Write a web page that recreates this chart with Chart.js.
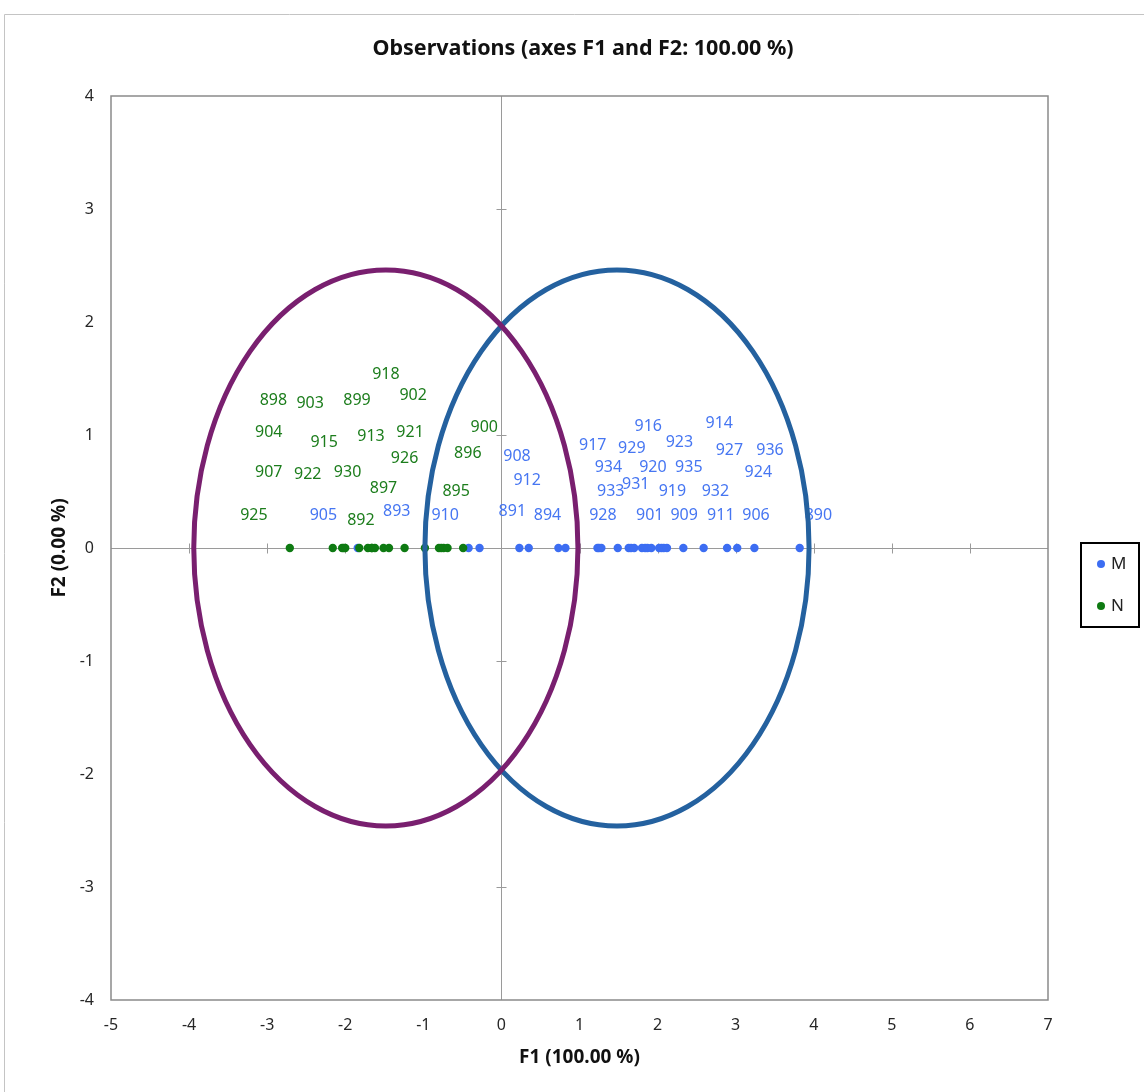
<!DOCTYPE html>
<html>
<head>
<meta charset="utf-8">
<script src="https://cdn.jsdelivr.net/npm/chart.js@4.4.1/dist/chart.umd.min.js"></script>
<style>
  html, body { margin: 0; padding: 0; background: #fff; }
  #wrap { position: relative; width: 1144px; height: 1092px; }
</style>
</head>
<body>
<div id="wrap"><canvas id="obsChart"></canvas></div>
<script>
// ─── data ──────────────────────────────────────────────────────────
// F1 scores of the observations (F2 is 0 for every one: 0.00 % inertia)
const mF1 = [-1.84, -0.42, -0.28, 0.23, 0.35, 0.73, 0.82, 1.23, 1.25, 1.28, 1.49,
  1.63, 1.66, 1.70, 1.80, 1.84, 1.87, 1.92, 2.02, 2.05, 2.08, 2.12, 2.33, 2.59,
  2.89, 3.02, 3.24, 3.82];
const nF1 = [-2.71, -2.16, -2.04, -2.02, -2.00, -1.82, -1.71, -1.66, -1.66, -1.62,
  -1.51, -1.44, -1.24, -0.98, -0.80, -0.77, -0.74, -0.69, -0.49];

// observation labels and where the labeller put them (data units)
const mIds = ['916', '914', '917', '929', '923', '927', '936', '908', '934', '920',
  '935', '924', '912', '931', '933', '919', '932', '891', '894', '928', '901',
  '909', '911', '906', '890', '905', '893', '910'];
const mLabelF1 = [1.88, 2.79, 1.17, 1.67, 2.28, 2.92, 3.44, 0.20, 1.37, 1.94, 2.40,
  3.29, 0.33, 1.72, 1.40, 2.19, 2.74, 0.14, 0.59, 1.30, 1.90, 2.34, 2.81, 3.26,
  4.06, -2.28, -1.34, -0.72];
const mLabelF2 = [1.08, 1.10, 0.91, 0.88, 0.93, 0.86, 0.86, 0.81, 0.71, 0.71, 0.71,
  0.67, 0.60, 0.56, 0.50, 0.50, 0.50, 0.32, 0.29, 0.29, 0.29, 0.29, 0.29, 0.29,
  0.29, 0.29, 0.32, 0.29];

const nIds = ['898', '903', '899', '918', '902', '904', '915', '913', '921', '900',
  '896', '926', '907', '922', '930', '897', '895', '925', '892'];
const nLabelF1 = [-2.92, -2.45, -1.85, -1.48, -1.13, -2.98, -2.27, -1.67, -1.17,
  -0.22, -0.43, -1.24, -2.98, -2.48, -1.97, -1.51, -0.58, -3.17, -1.80];
const nLabelF2 = [1.31, 1.28, 1.31, 1.54, 1.35, 1.02, 0.93, 0.99, 1.02, 1.07, 0.84,
  0.79, 0.67, 0.65, 0.67, 0.53, 0.50, 0.29, 0.24];

// confidence ellipses (centre F1, radius in both axes)
const groups = ['M', 'N'];
const ellipseCentre = [1.48, -1.48];
const ellipseRadius = [2.46, 2.46];

const FONT = '"Noto Sans", "Liberation Sans", sans-serif';
const colM = '#3C6DF2', colN = '#0E7A12';
const labelColM = '#4676F2', labelColN = '#1C7D1C';
const ellipseCol = ['#24619F', '#791F6F'];

// ─── decorations drawn with the chart's own scales ─────────────────
const extras = {
  id: 'extras',
  beforeDraw(chart) {
    const { ctx } = chart;
    ctx.save();
    ctx.fillStyle = '#fff';
    ctx.fillRect(0, 0, chart.width, chart.height);
    ctx.strokeStyle = '#C4C4C4';
    ctx.lineWidth = 1;
    ctx.beginPath();
    ctx.moveTo(4.5, chart.height); ctx.lineTo(4.5, 14.5); ctx.lineTo(chart.width, 14.5);
    ctx.stroke();
    ctx.restore();
  },
  beforeDatasetsDraw(chart) {
    const { ctx, chartArea: a, scales: { x, y } } = chart;
    ctx.save();
    // axes through the origin, with cross ticks
    const x0 = Math.round(x.getPixelForValue(0)) + 0.5;
    const y0 = Math.round(y.getPixelForValue(0)) + 0.5;
    ctx.strokeStyle = '#9A9A9A';
    ctx.lineWidth = 1;
    ctx.beginPath();
    ctx.moveTo(x0, a.top); ctx.lineTo(x0, a.bottom);
    ctx.moveTo(a.left, y0); ctx.lineTo(a.right, y0);
    x.ticks.forEach(t => {
      if (t.value === 0 || t.value === x.min || t.value === x.max) return;
      const px = Math.round(x.getPixelForValue(t.value)) + 0.5;
      ctx.moveTo(px, y0 - 5); ctx.lineTo(px, y0 + 5);
    });
    y.ticks.forEach(t => {
      if (t.value === 0 || t.value === y.min || t.value === y.max) return;
      const py = Math.round(y.getPixelForValue(t.value)) + 0.5;
      ctx.moveTo(x0 - 5, py); ctx.lineTo(x0 + 5, py);
    });
    ctx.stroke();
    // plot frame
    ctx.strokeStyle = '#8A8A8A';
    ctx.lineWidth = 1.5;
    ctx.strokeRect(a.left, a.top, a.right - a.left, a.bottom - a.top);
    ctx.restore();
  },
  afterDatasetsDraw(chart) {
    const { ctx, scales: { x, y } } = chart;
    ctx.save();
    ctx.font = '16px ' + FONT;
    ctx.textAlign = 'center';
    ctx.textBaseline = 'middle';
    ctx.fillStyle = labelColM;
    mIds.forEach((id, i) => ctx.fillText(id, x.getPixelForValue(mLabelF1[i]), y.getPixelForValue(mLabelF2[i])));
    ctx.fillStyle = labelColN;
    nIds.forEach((id, i) => ctx.fillText(id, x.getPixelForValue(nLabelF1[i]), y.getPixelForValue(nLabelF2[i])));
    // ellipses
    ctx.lineWidth = 5;
    groups.forEach((g, i) => {
      const cx = x.getPixelForValue(ellipseCentre[i]);
      const cy = y.getPixelForValue(0);
      const rx = Math.abs(x.getPixelForValue(ellipseCentre[i] + ellipseRadius[i]) - cx);
      const ry = Math.abs(y.getPixelForValue(ellipseRadius[i]) - cy);
      ctx.strokeStyle = ellipseCol[i];
      ctx.beginPath();
      ctx.ellipse(cx, cy, rx, ry, 0, 0, Math.PI * 2);
      ctx.stroke();
    });
    ctx.restore();
  },
  afterDraw(chart) {
    const { ctx } = chart;
    ctx.save();
    ctx.fillStyle = '#111';
    ctx.font = 'bold 21.5px ' + FONT;
    ctx.textAlign = 'center';
    ctx.textBaseline = 'middle';
    ctx.fillText('Observations (axes F1 and F2: 100.00 %)', 583, 49);
    // legend box
    ctx.strokeStyle = '#000';
    ctx.lineWidth = 2;
    ctx.strokeRect(1081, 543, 58, 84);
    ctx.font = '17px ' + FONT;
    ctx.textAlign = 'left';
    [[colM, 'M', 564], [colN, 'N', 606]].forEach(([c, t, ly]) => {
      ctx.fillStyle = c;
      ctx.beginPath(); ctx.arc(1101, ly, 4, 0, Math.PI * 2); ctx.fill();
      ctx.fillStyle = '#222';
      ctx.fillText(t, 1111, ly);
    });
    ctx.restore();
  },
};

const tickFont = { family: FONT, size: 16 };
const titleFont = { family: FONT, size: 19, weight: 'bold' };

new Chart(document.getElementById('obsChart'), {
  type: 'scatter',
  data: {
    datasets: [
      { label: 'M', data: mF1.map(v => ({ x: v, y: 0 })), backgroundColor: colM, borderColor: colM,
        pointRadius: 4.2, borderWidth: 0, order: 1 },
      { label: 'N', data: nF1.map(v => ({ x: v, y: 0 })), backgroundColor: colN, borderColor: colN,
        pointRadius: 4.2, borderWidth: 0, order: 0 },
    ],
  },
  options: {
    responsive: true, maintainAspectRatio: false, animation: false,
    layout: { padding: { top: 96, right: 96, left: 0, bottom: 0 } },
    plugins: { legend: { display: false }, tooltip: { enabled: false }, title: { display: false } },
    scales: {
      x: {
        type: 'linear', min: -5, max: 7,
        ticks: { stepSize: 1, font: tickFont, color: '#262626', padding: 16, maxRotation: 0 },
        grid: { display: false, drawTicks: false, tickLength: 0 },
        border: { display: false },
        title: { display: true, text: 'F1 (100.00 %)', font: titleFont, color: '#111', padding: { top: 0, bottom: 23 } },
        afterFit(s) { s.height = 92; },
      },
      y: {
        type: 'linear', min: -4, max: 4,
        ticks: { stepSize: 1, font: tickFont, color: '#262626', padding: 17 },
        grid: { display: false, drawTicks: false, tickLength: 0 },
        border: { display: false },
        title: { display: true, text: 'F2 (0.00 %)', font: titleFont, color: '#111', padding: { top: 48, bottom: 0 } },
        afterFit(s) { s.width = 111; },
      },
    },
  },
  plugins: [extras],
});
</script>
</body>
</html>
